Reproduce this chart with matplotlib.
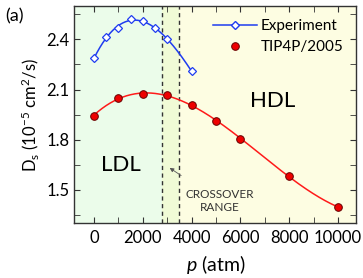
import numpy as np
import matplotlib
matplotlib.use('Agg')
import matplotlib.pyplot as plt
from matplotlib.ticker import MultipleLocator

plt.rcParams['font.family'] = ['Lato', 'DejaVu Sans']
plt.rcParams['mathtext.fontset'] = 'custom'
plt.rcParams['mathtext.rm'] = 'Lato'
plt.rcParams['mathtext.it'] = 'Lato:italic'

# Experiment data
p_exp = [0, 500, 1000, 1500, 2000, 2500, 3000, 4000]
d_exp = [2.286, 2.414, 2.47, 2.524, 2.508, 2.47, 2.40, 2.21]

# TIP4P/2005 simulation data
p_sim = [0, 1000, 2000, 3000, 4000, 5000, 6000, 8000, 10000]
d_sim = [1.944, 2.05, 2.072, 2.068, 2.006, 1.91, 1.806, 1.58, 1.394]

cross_lo, cross_hi = 2800, 3500

fig, ax = plt.subplots(figsize=(3.63, 2.78), dpi=100)
fig.subplots_adjust(left=0.205, right=0.982, top=0.978, bottom=0.198)

ax.set_xlim(-800, 10750)
ax.set_ylim(1.3, 2.6)

# background regions
ax.axvspan(-800, cross_lo, color='#ebfcea', zorder=0, lw=0)
ax.axvspan(cross_lo, cross_hi, color='#f0fbd6', zorder=0, lw=0)
ax.axvspan(cross_hi, 10750, color='#fdfde2', zorder=0, lw=0)
ax.axvline(cross_lo, color='#333333', ls='--', lw=1.0, dashes=(3, 2.5))
ax.axvline(cross_hi, color='#333333', ls='--', lw=1.0, dashes=(3, 2.5))

# smooth fitted curves
c_exp = np.polyfit(p_exp, d_exp, 3)
xe = np.linspace(0, 4000, 200)
ax.plot(xe, np.polyval(c_exp, xe), color='#1f3cf0', lw=1.1, zorder=3)
ax.plot(p_exp, d_exp, ls='none', marker='D', ms=4.5, mfc='white', mec='#1f3cf0',
        mew=0.9, zorder=4)
ax.plot([], [], color='#1f3cf0', lw=1.1, marker='D', ms=4.5, mfc='white',
        mec='#1f3cf0', label='Experiment')

c_sim = np.polyfit(p_sim, d_sim, 3)
xs = np.linspace(0, 10000, 300)
ax.plot(xs, np.polyval(c_sim, xs), color='#ff1a1a', lw=1.1, zorder=3)
ax.plot(p_sim, d_sim, ls='none', marker='o', ms=5.5, mfc='#ee0000', mec='#660000',
        mew=0.7, zorder=4, label='TIP4P/2005')

ax.legend(loc='upper right', frameon=False, fontsize=11, handlelength=2.9,
          handletextpad=0.25, borderaxespad=0.55, labelspacing=0.45,
          borderpad=0.3)

ax.text(1100, 1.65, 'LDL', fontsize=16, ha='center', va='center')
ax.text(7300, 2.03, 'HDL', fontsize=16, ha='center', va='center')
ax.annotate('CROSSOVER\nRANGE', xy=(3100, 1.63), xytext=(5150, 1.43),
            fontsize=8.5, ha='center', va='center', color='#333333',
            linespacing=1.25,
            arrowprops=dict(arrowstyle='-|>', color='#555555', lw=0.6,
                            mutation_scale=6, shrinkA=14, shrinkB=0))

ax.xaxis.set_major_locator(MultipleLocator(2000))
ax.xaxis.set_minor_locator(MultipleLocator(1000))
ax.yaxis.set_major_locator(MultipleLocator(0.3))
ax.yaxis.set_minor_locator(MultipleLocator(0.15))
ax.tick_params(which='both', direction='in', top=True, right=True,
               labelsize=12, color='#333333')
ax.tick_params(axis='x', pad=5)
ax.tick_params(which='major', length=4)
ax.tick_params(which='minor', length=4)
for s in ax.spines.values():
    s.set_color('#333333')
    s.set_linewidth(1.0)

ax.set_xlabel('$p$ (atm)', fontsize=14, labelpad=5)
ax.set_ylabel('D$_\\mathrm{s}$ (10$^{\\mathrm{-5}}$ cm$^2$/s)', fontsize=12, labelpad=4)
fig.text(0.014, 0.94, '(a)', fontsize=13, ha='left', va='center')

plt.savefig('out.png', dpi=100)
